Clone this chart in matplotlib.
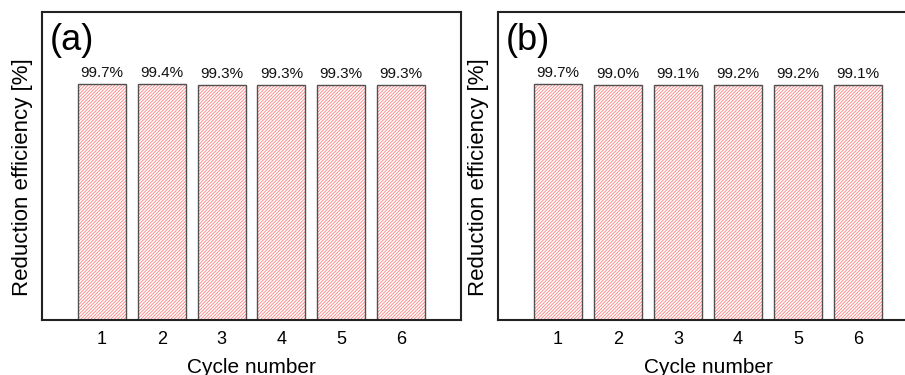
import matplotlib
matplotlib.use("Agg")
import matplotlib.pyplot as plt

plt.rcParams['font.family'] = ['Liberation Sans', 'DejaVu Sans']
plt.rcParams['hatch.linewidth'] = 0.6

cycles = [1, 2, 3, 4, 5, 6]
eff_a = [99.7, 99.4, 99.3, 99.3, 99.3, 99.3]
eff_b = [99.7, 99.0, 99.1, 99.2, 99.2, 99.1]
panel_labels = ["(a)", "(b)"]

W, H = 905, 375
fig = plt.figure(figsize=(W / 100, H / 100), dpi=100)

axes_px = [(42, 419), (498, 420)]
bottom_px, top_px = 320, 12

for (x0, w), vals, lab in zip(axes_px, [eff_a, eff_b], panel_labels):
    ax = fig.add_axes([x0 / W, (H - bottom_px) / H, w / W, (bottom_px - top_px) / H])
    ax.bar(cycles, vals, width=0.8, facecolor='white', edgecolor='#ff8080',
           hatch='//////////', linewidth=0)
    ax.bar(cycles, vals, width=0.8, fill=False, edgecolor='#505050', linewidth=1.0)
    for c, v in zip(cycles, vals):
        ax.annotate(f"{v:.1f}%", (c, v), xytext=(0, 3), textcoords='offset points',
                    ha='center', va='bottom', fontsize=11, color='#111111')
    ax.set_xlim(0, 7)
    ax.set_ylim(0, 130)
    ax.set_xticks(cycles)
    ax.set_xticklabels([str(c) for c in cycles], fontsize=13)
    ax.tick_params(axis='x', length=0, pad=8)
    ax.set_yticks([])
    for s in ax.spines.values():
        s.set_linewidth(1.5)
        s.set_color('#222222')
    ax.set_xlabel("Cycle number", fontsize=15, labelpad=7)
    ax.set_ylabel("Reduction efficiency [%]", fontsize=16)
    ax.yaxis.set_label_coords(-9 / w, 0.464)
    ax.text(8 / w, 1 - 28 / (bottom_px - top_px), lab, transform=ax.transAxes,
            fontsize=26, ha='left', va='center')

fig.savefig("out.png", dpi=100)
